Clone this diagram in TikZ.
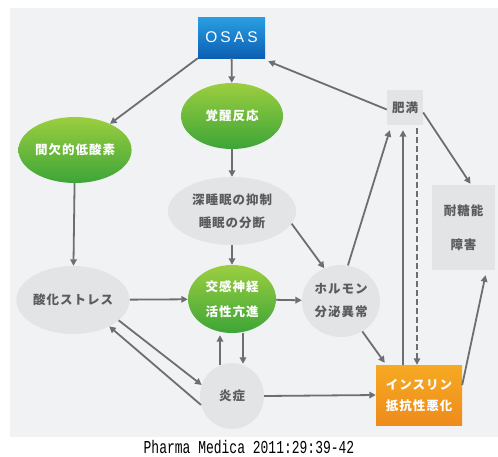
\documentclass[tikz,border=0pt]{standalone}
\usepackage{fontspec}
\usetikzlibrary{arrows.meta,shapes.geometric,calc}
\newfontfamily\jp[LetterSpace=8]{Noto Sans CJK JP}
\newfontfamily\osasfont[LetterSpace=20]{Liberation Sans}
\newfontfamily\capfont{Liberation Mono}
\definecolor{bgc}{HTML}{F1F2F4}
\definecolor{grayn}{HTML}{E3E4E6}
\definecolor{txtg}{HTML}{5A5B5D}
\definecolor{arrc}{HTML}{6D6E71}
\definecolor{greenT}{HTML}{9CCE40}
\definecolor{greenB}{HTML}{3DA537}
\definecolor{blueT}{HTML}{2A9FE2}
\definecolor{blueB}{HTML}{0B5FB3}
\definecolor{orT}{HTML}{F6AA22}
\definecolor{orB}{HTML}{EE8B1C}
\begin{document}
\begin{tikzpicture}[x=1pt,y=-1pt,
  lbl/.style={font=\jp\bfseries\fontsize{12.5}{23}\selectfont, align=center, inner sep=0pt},
  greenell/.style={lbl, ellipse, top color=greenT, bottom color=greenB, draw=none, text=white},
  grayell/.style={lbl, ellipse, fill=grayn, text=txtg},
  grayrect/.style={lbl, rectangle, fill=grayn, text=txtg},
  bluebox/.style={rectangle, top color=blueT, bottom color=blueB, text=white, inner sep=0pt,
     font=\osasfont\fontsize{15.5}{18}\selectfont},
  orbox/.style={lbl, rectangle, top color=orT, bottom color=orB, text=white},
  arr/.style={draw=arrc, line width=1.8pt, -{Triangle[length=6.5pt,width=6.5pt]}}]
\useasboundingbox (0,0) rectangle (498,456);
\fill[bgc] (10,8) rectangle (498,437);

\node[bluebox, minimum width=67pt, minimum height=41pt] (osas) at (231.5,37.5) {OSAS};
\node[greenell, minimum width=103pt, minimum height=66pt] (hyp) at (75,150) {間欠的低酸素};
\node[greenell, minimum width=102pt, minimum height=66pt] (arou) at (232,116) {覚醒反応};
\node[grayell, minimum width=128pt, minimum height=68pt] (deep) at (232,211) {深睡眠の抑制\\睡眠の分断};
\node[grayrect, minimum width=36pt, minimum height=35pt] (obese) at (405,107.5) {肥満};
\node[grayrect, minimum width=63pt, minimum height=85pt, font=\jp\bfseries\fontsize{12.5}{34}\selectfont] (igt) at (463.5,227.5) {耐糖能\\障害};
\node[grayell, minimum width=104pt, minimum height=68pt] (ox) at (73,300) {酸化ストレス};
\node[greenell, minimum width=88pt, minimum height=68pt, font=\jp\bfseries\fontsize{12.5}{25}\selectfont] (symp) at (232,299) {交感神経\\活性亢進};
\node[grayell, minimum width=78pt, minimum height=72pt] (horm) at (341,301) {ホルモン\\分泌異常};
\node[grayell, minimum width=64pt, minimum height=66pt] (infl) at (232,396) {炎症};
\node[orbox, minimum width=86pt, minimum height=60pt, font=\jp\bfseries\fontsize{12.5}{21}\selectfont] (ins) at (419,395) {インスリン\\抵抗性悪化};

\draw[arr] (osas.south west) -- (hyp);
\draw[arr] (osas) -- (arou);
\draw[arr] ($(obese.west)+(0,2)$) -- ($(osas.south east)+(3,3)$);
\draw[arr] (arou) -- (deep);
\draw[arr] (hyp) -- (ox);
\draw[arr] (deep) -- (symp);
\draw[arr] (deep.-12) -- (horm.117);
\draw[arr] (ox) -- (symp);
\draw[arr] (symp) -- (horm);
\draw[arr] (horm.79) -- ($(obese.south west)+(3,5)$);
\draw[arr] ($(ins.north)+(-16,0)$) -- ($(obese.south)+(-2,5)$);
\draw[arr, dash pattern=on 6pt off 3pt, line width=1.4pt] ($(obese.south)+(12,3)$) -- ($(ins.north)+(-2,0)$);
\draw[arr] ($(obese.east)+(0,5)$) -- ($(igt.north)+(7,-1)$);
\draw[arr] ($(ins.east)+(0,-10)$) -- ($(igt.south)+(22,5)$);
\draw[arr] (horm.-55) -- ($(ins.north west)+(9,-2)$);
\draw[arr] (infl.east) -- (ins.west);
\draw[arr] (ox.-24) -- (infl.160);
\draw[arr] (infl.-164) -- (ox.-36);
\draw[arr] ($(infl.north)+(-12,2)$) -- ($(symp.south)+(-12,2)$);
\draw[arr] ($(symp.south)+(11,0)$) -- ($(infl.north)+(11,1)$);

\node[inner sep=0pt, text=black] (cap) at (249,447) {\scalebox{1}[1.4]{\capfont\fontsize{13}{15}\selectfont Pharma Medica 2011:29:39-42}};
\end{tikzpicture}
\end{document}
